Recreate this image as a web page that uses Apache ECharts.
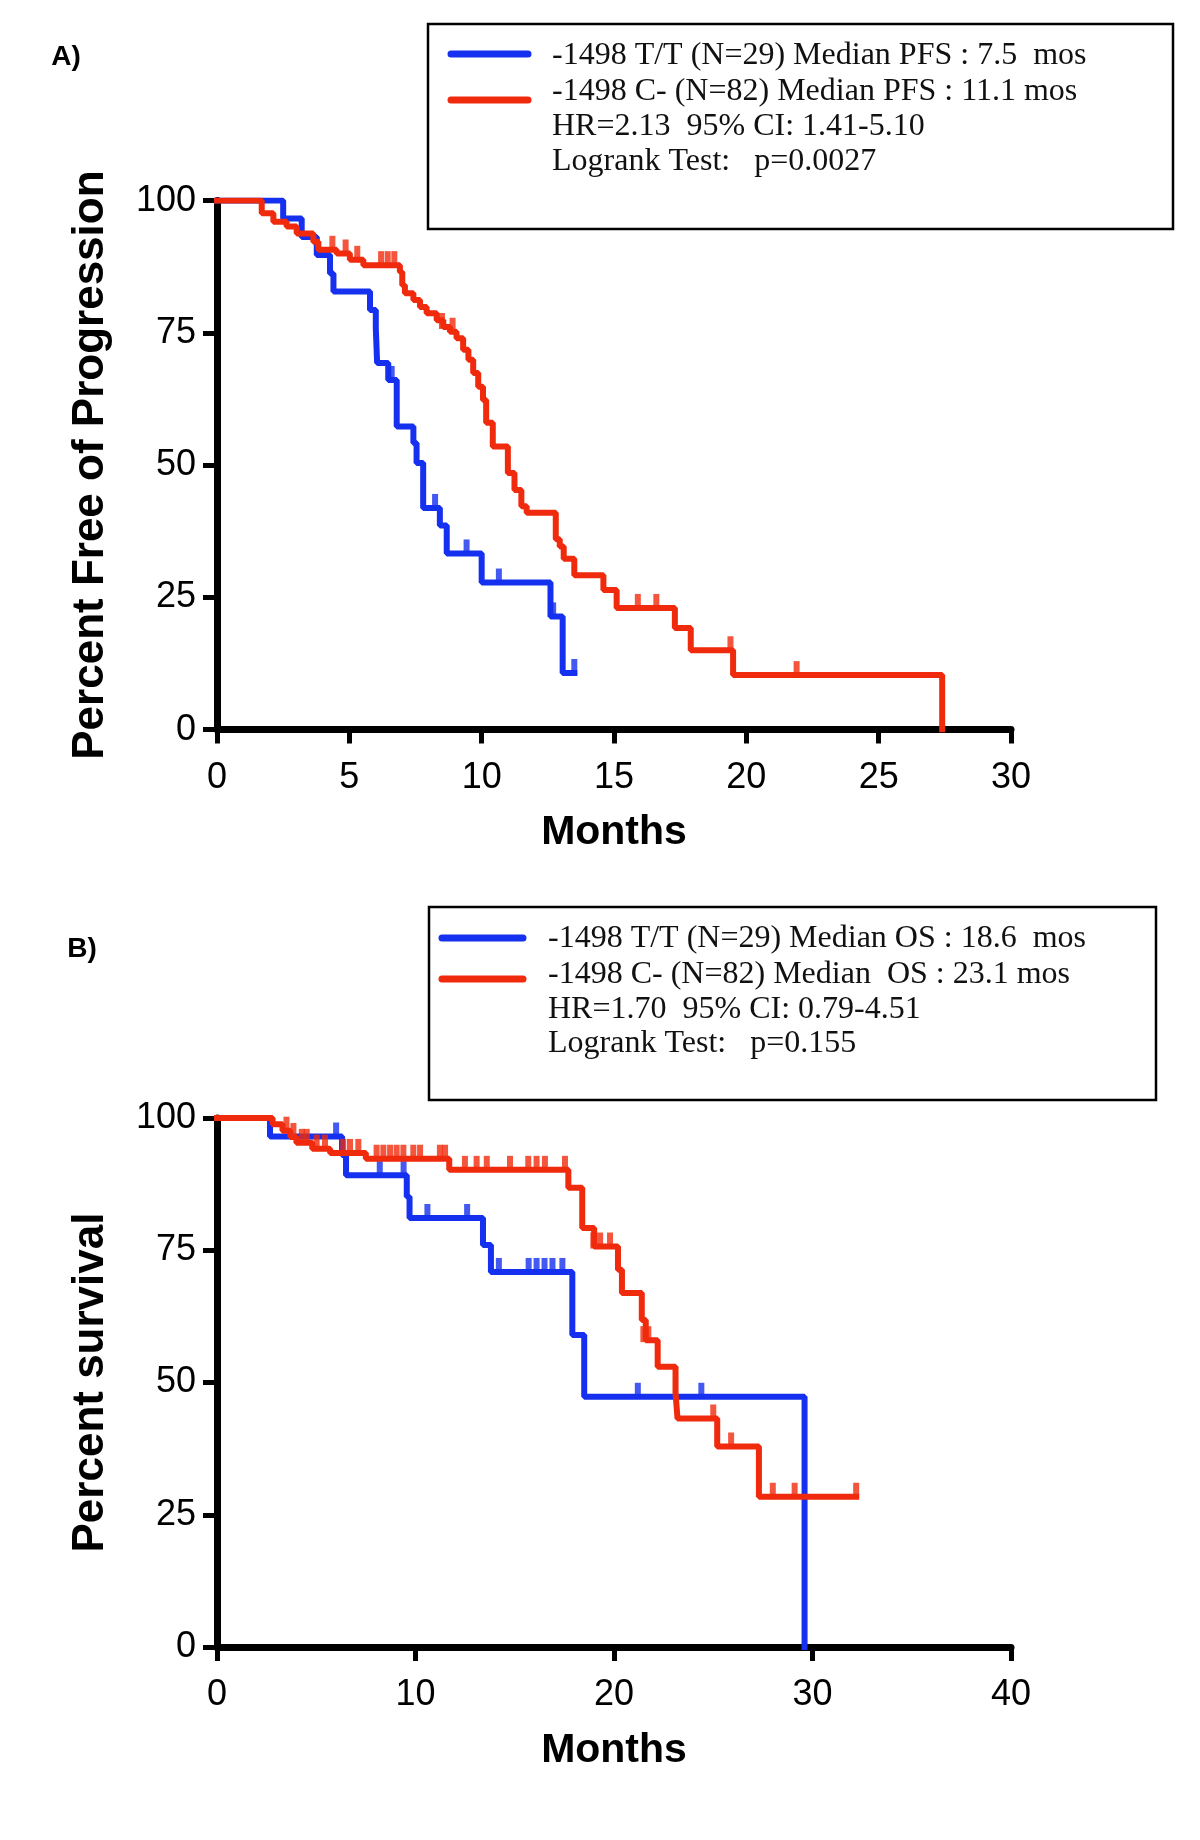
<!DOCTYPE html>
<html><head><meta charset="utf-8">
<script src="https://cdn.jsdelivr.net/npm/echarts/dist/echarts.min.js"></script>
<style>html,body{margin:0;padding:0;background:#fff}#c{width:1200px;height:1840px}</style>
</head><body><div id="c"></div>
<script>
// ---------- Panel A: Progression-free survival ----------
const pfsTT_time = [0, 2.5, 3.2, 3.77, 4.27, 4.4, 5.78, 6.0, 6.05, 6.47, 6.79, 7.42, 7.54, 7.79, 8.42, 8.68, 10.0, 12.6, 13.06, 13.5];
const pfsTT_surv = [100, 96.6, 93.1, 89.7, 86.2, 82.8, 79.3, 75.9, 69.3, 66.1, 57.3, 54.2, 50.4, 41.9, 38.6, 33.3, 27.8, 21.4, 10.7, 10.7];
const pfsTT_censTime = [6.6, 8.24, 9.43, 10.65, 12.7, 13.5];
const pfsTT_censSurv = [66.1, 41.9, 33.3, 27.8, 21.4, 10.7];

const pfsC_time = [0, 1.69, 2.13, 2.63, 3.01, 3.64, 3.83, 4.52, 5.02, 5.53, 6.91, 7.0, 7.1, 7.42, 7.67, 7.92, 8.3, 8.55, 8.8, 9.05, 9.3, 9.5, 9.68, 9.87, 10.05, 10.17, 10.42, 10.99, 11.24, 11.5, 11.7, 12.8, 12.95, 13.1, 13.5, 14.6, 15.1, 17.3, 17.9, 19.5, 27.4];
const pfsC_surv = [100, 97.6, 96.0, 95.1, 93.8, 92.2, 90.7, 90.0, 88.8, 87.8, 86.5, 84.0, 82.5, 81.2, 79.9, 78.7, 77.4, 76.1, 75.2, 74.0, 71.8, 69.9, 67.4, 64.8, 62.3, 58.0, 53.5, 48.5, 45.3, 42.2, 41.0, 36.0, 34.6, 32.3, 29.2, 26.4, 23.0, 19.2, 15.0, 10.3, 0];
const pfsC_censTime = [4.36, 4.86, 5.3, 6.2, 6.45, 6.7, 8.5, 8.9, 15.9, 16.6, 19.4, 21.9];
const pfsC_censSurv = [90.7, 90.0, 88.8, 87.8, 87.8, 87.8, 76.1, 75.2, 23.0, 23.0, 15.0, 10.3];

// ---------- Panel B: Overall survival ----------
const osTT_time = [0, 2.67, 6.3, 6.5, 9.56, 9.7, 13.4, 13.8, 17.9, 18.5, 29.6];
const osTT_surv = [100, 96.5, 93.0, 89.2, 85.1, 81.1, 76.0, 70.9, 59.0, 47.3, 0];
const osTT_censTime = [6.0, 8.2, 9.4, 10.6, 12.6, 14.2, 15.7, 16.1, 16.5, 16.9, 17.4, 21.2, 24.4];
const osTT_censSurv = [96.5, 89.2, 89.2, 81.1, 81.1, 70.9, 70.9, 70.9, 70.9, 70.9, 70.9, 47.3, 47.3];

const osC_time = [0, 2.8, 3.3, 3.7, 4.0, 4.8, 5.7, 7.5, 11.7, 17.7, 18.4, 19.0, 20.2, 20.4, 21.4, 21.6, 22.2, 23.1, 23.2, 25.2, 27.3, 32.2];
const osC_surv = [100, 98.8, 97.6, 96.4, 95.3, 94.2, 93.4, 92.3, 90.2, 86.8, 79.2, 75.7, 71.3, 66.9, 61.8, 58.0, 53.0, 48.0, 43.2, 37.9, 28.4, 28.4];
const osC_censTime = [3.5, 3.85, 4.27, 4.52, 5.02, 5.44, 6.36, 6.7, 7.12, 8.04, 8.38, 8.72, 9.05, 9.39, 9.89, 10.23, 11.23, 11.49, 12.49, 13.08, 13.59, 14.76, 15.68, 16.1, 16.52, 17.53, 18.96, 19.3, 19.8, 21.48, 21.73, 25.0, 25.9, 28.0, 29.1, 32.2];
const osC_censSurv = [97.6, 96.4, 95.3, 95.3, 94.2, 94.2, 93.4, 93.4, 93.4, 92.3, 92.3, 92.3, 92.3, 92.3, 92.3, 92.3, 92.3, 92.3, 90.2, 90.2, 90.2, 90.2, 90.2, 90.2, 90.2, 90.2, 75.7, 75.7, 75.7, 58.0, 58.0, 43.2, 37.9, 28.4, 28.4, 28.4];

const xTicksA = {min: 0, max: 30, interval: 5};
const xTicksB = {min: 0, max: 40, interval: 10};
const yTicks = {min: 0, max: 100, interval: 25};

const legendA = ['-1498 T/T (N=29) Median PFS : 7.5  mos', '-1498 C- (N=82) Median PFS : 11.1 mos', 'HR=2.13  95% CI: 1.41-5.10', 'Logrank Test:   p=0.0027'];
const legendB = ['-1498 T/T (N=29) Median OS : 18.6  mos', '-1498 C- (N=82) Median  OS : 23.1 mos', 'HR=1.70  95% CI: 0.79-4.51', 'Logrank Test:   p=0.155'];

const BLUE = '#1530ee';
const RED = '#f02a0c';
const SANS = '"Liberation Sans", Arial, sans-serif';
const SERIF = '"Liberation Serif", "Times New Roman", serif';

function zip(a, b) { return a.map((v, i) => [v, b[i]]); }
function km(t, s, color, idx, z) {
  return {type: 'line', step: 'end', xAxisIndex: idx, yAxisIndex: idx, data: zip(t, s),
    showSymbol: false, symbol: 'none', z: z, lineStyle: {color: color, width: 6, cap: 'square'}, animation: false};
}
function cens(t, s, color, idx, z) {
  return {type: 'scatter', xAxisIndex: idx, yAxisIndex: idx, data: zip(t, s), symbol: 'rect',
    symbolSize: [6, 16], symbolOffset: [0, -6], z: z, itemStyle: {color: color}, animation: false};
}
function xAxis(idx, ticks) {
  return Object.assign({type: 'value', gridIndex: idx, name: 'Months', nameLocation: 'middle', nameGap: 83,
    nameTextStyle: {fontSize: 41, fontWeight: 'bold', fontFamily: SANS, color: '#000'},
    axisLine: {show: true, onZero: false, lineStyle: {color: '#000', width: 7}},
    axisTick: {show: true, length: 14, lineStyle: {color: '#000', width: 5}},
    axisLabel: {fontSize: 36, fontFamily: SANS, color: '#000', margin: 30},
    splitLine: {show: false}}, ticks);
}
function yAxis(idx, name) {
  return Object.assign({type: 'value', gridIndex: idx, name: name, nameLocation: 'middle', nameGap: 104,
    nameTextStyle: {fontSize: 44, fontWeight: 'bold', fontFamily: SANS, color: '#000'},
    axisLine: {show: true, onZero: false, lineStyle: {color: '#000', width: 7}},
    axisTick: {show: true, length: 14, lineStyle: {color: '#000', width: 5}},
    axisLabel: {fontSize: 36, fontFamily: SANS, color: '#000', margin: 21},
    splitLine: {show: false}}, yTicks);
}
function legendGraphics(box, lineX, blueY, redY, textX, textYs, lines) {
  const g = [{type: 'rect', shape: box, style: {fill: 'none', stroke: '#000', lineWidth: 2.5}},
    {type: 'line', shape: {x1: lineX[0], y1: blueY, x2: lineX[1], y2: blueY}, style: {stroke: BLUE, lineWidth: 7, lineCap: 'round'}},
    {type: 'line', shape: {x1: lineX[0], y1: redY, x2: lineX[1], y2: redY}, style: {stroke: RED, lineWidth: 7, lineCap: 'round'}}];
  lines.forEach((t, i) => g.push({type: 'text', x: textX, y: textYs[i],
    style: {text: t, font: '32px ' + SERIF, fill: '#111', align: 'left', verticalAlign: 'middle'}}));
  return g;
}

const chart = echarts.init(document.getElementById('c'), null, {renderer: 'canvas'});
chart.setOption({
  backgroundColor: '#fff',
  animation: false,
  grid: [
    {left: 217, top: 200.6, width: 794, height: 529},
    {left: 217, top: 1118, width: 794, height: 529}
  ],
  xAxis: [xAxis(0, xTicksA), xAxis(1, xTicksB)],
  yAxis: [yAxis(0, 'Percent Free of Progression'), yAxis(1, 'Percent survival')],
  series: [
    km(pfsTT_time, pfsTT_surv, BLUE, 0, 2), cens(pfsTT_censTime, pfsTT_censSurv, BLUE, 0, 2),
    km(pfsC_time, pfsC_surv, RED, 0, 3), cens(pfsC_censTime, pfsC_censSurv, RED, 0, 3),
    km(osTT_time, osTT_surv, BLUE, 1, 2), cens(osTT_censTime, osTT_censSurv, BLUE, 1, 2),
    km(osC_time, osC_surv, RED, 1, 3), cens(osC_censTime, osC_censSurv, RED, 1, 3)
  ],
  graphic: [
    {type: 'text', x: 66, y: 57, style: {text: 'A)', font: 'bold 28px ' + SANS, fill: '#000', align: 'center', verticalAlign: 'middle'}},
    {type: 'text', x: 82, y: 949, style: {text: 'B)', font: 'bold 28px ' + SANS, fill: '#000', align: 'center', verticalAlign: 'middle'}}
  ].concat(
    legendGraphics({x: 428, y: 24, width: 745, height: 205}, [451, 528], 54, 100, 552, [56, 92, 127, 162], legendA),
    legendGraphics({x: 429, y: 907, width: 727, height: 193}, [442, 523], 938, 979, 548, [939, 975, 1010, 1044], legendB)
  )
});
</script></body></html>
